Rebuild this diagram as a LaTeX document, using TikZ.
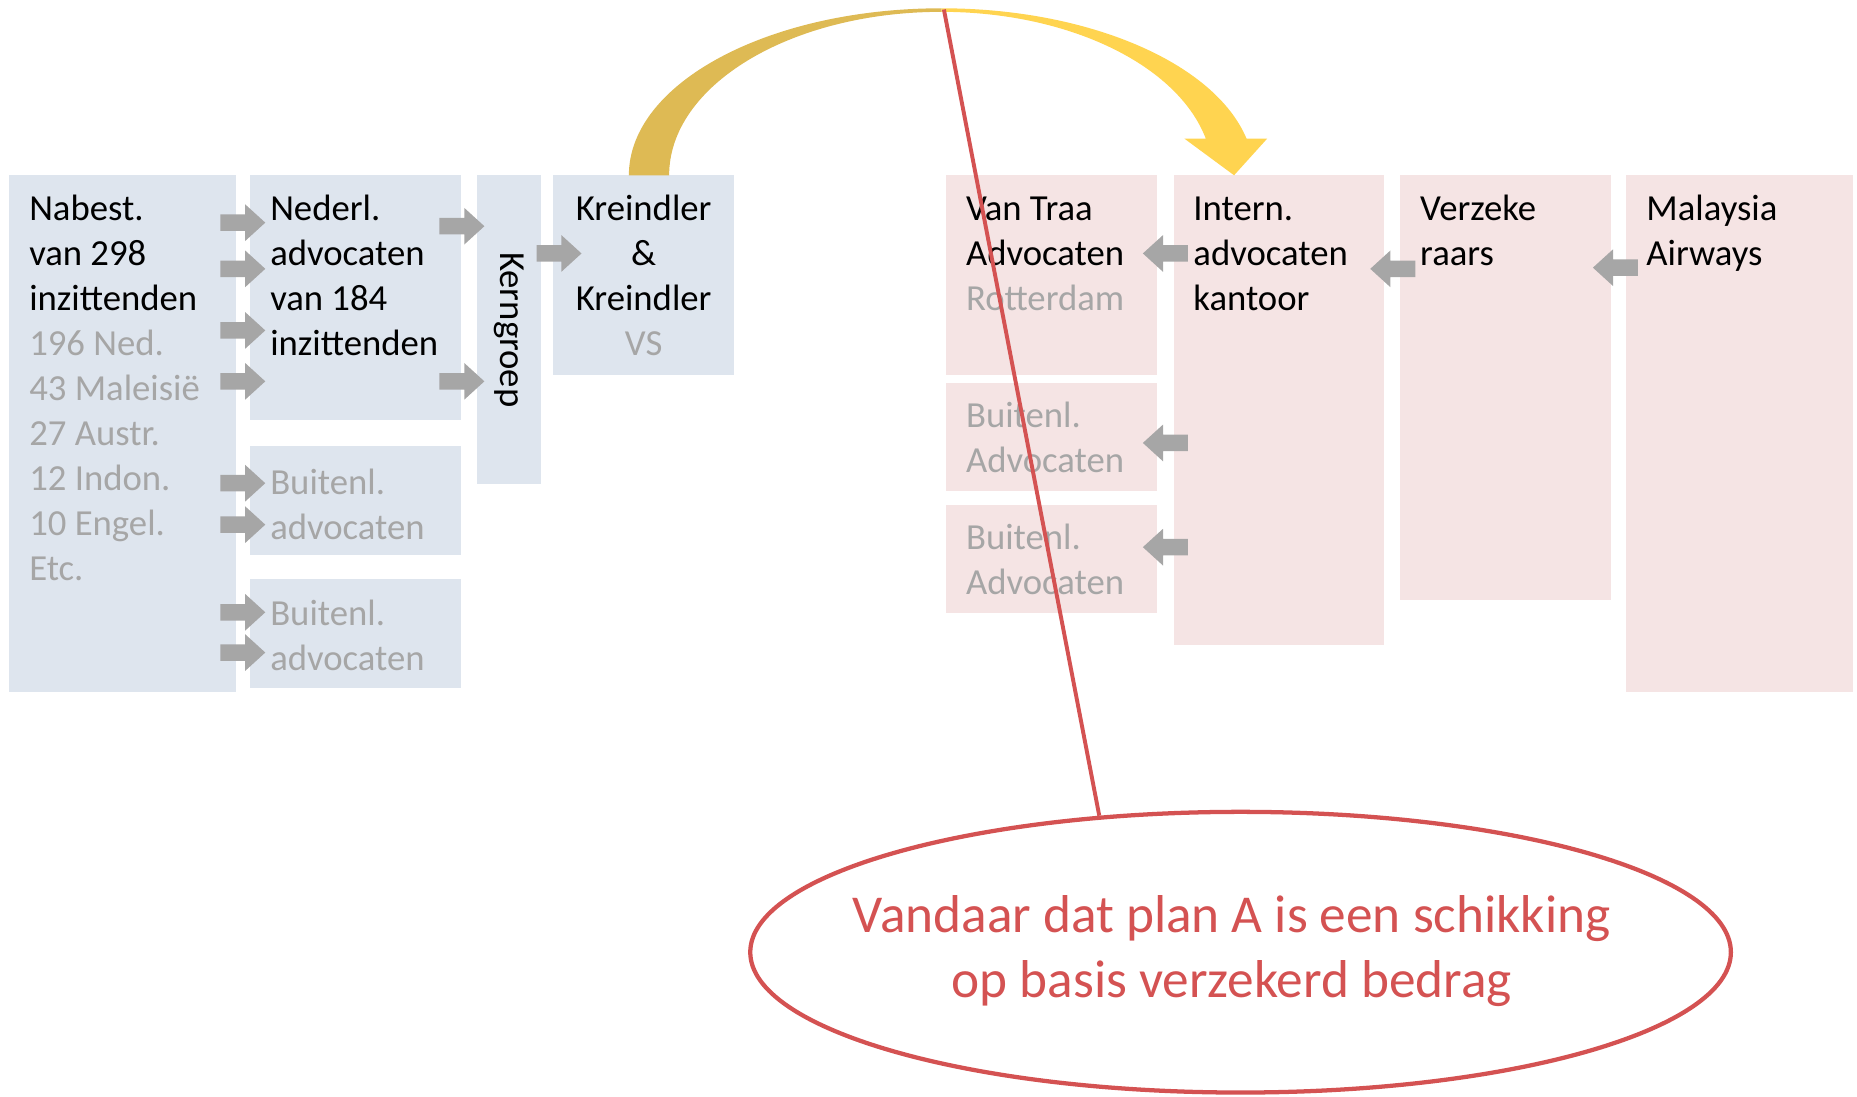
\documentclass[tikz,border=0pt]{standalone}
\usepackage{fontspec}
\setmainfont{Carlito}
\usetikzlibrary{shapes.geometric,calc}
\definecolor{boxblue}{RGB}{222,229,238}
\definecolor{boxpink}{RGB}{245,228,228}
\definecolor{arrgray}{RGB}{166,166,166}
\definecolor{txtgray}{RGB}{166,166,166}
\definecolor{goldc}{RGB}{222,186,84}
\definecolor{yelc}{RGB}{255,212,80}
\definecolor{redc}{RGB}{212,82,82}
\begin{document}
\begin{tikzpicture}[x=1pt,y=-1pt,
  bluebox/.style={fill=boxblue,draw=none,inner sep=0,outer sep=0,anchor=north west},
  pinkbox/.style={fill=boxpink,draw=none,inner sep=0,outer sep=0,anchor=north west},
  boxtext/.style={anchor=north west,inner sep=0,align=left,font=\fontsize{31}{38}\selectfont},
  ctext/.style={anchor=north,inner sep=0,align=center,font=\fontsize{31}{38}\selectfont},
  greytext/.style={text=txtgray},
  rarr/.pic={\fill[arrgray] (-19,-7) -- (2,-7) -- (2,-15.5) -- (19,0) -- (2,15.5) -- (2,7) -- (-19,7) -- cycle;},
  larr/.pic={\fill[arrgray] (19,-7) -- (-2,-7) -- (-2,-15.5) -- (-19,0) -- (-2,15.5) -- (-2,7) -- (19,7) -- cycle;},
  redl/.style={draw=redc,line width=3.3pt}
]
\useasboundingbox (0,0) rectangle (1568,926);

% left boxes
\node[bluebox,minimum width=191pt,minimum height=436pt] (nabest) at (8,148) {};
\node[bluebox,minimum width=178pt,minimum height=207pt] (nederl) at (211,148) {};
\node[bluebox,minimum width=178pt,minimum height=92pt] (buit1) at (211,377) {};
\node[bluebox,minimum width=178pt,minimum height=92pt] (buit2) at (211,489) {};
\node[bluebox,minimum width=54pt,minimum height=261pt] (kern) at (403,148) {};
\node[bluebox,minimum width=153pt,minimum height=169pt] (krein) at (467,148) {};

% right boxes
\node[pinkbox,minimum width=178pt,minimum height=169pt] (vantraa) at (799,148) {};
\node[pinkbox,minimum width=178pt,minimum height=92pt] (buitr1) at (799,323) {};
\node[pinkbox,minimum width=178pt,minimum height=92pt] (buitr2) at (799,426) {};
\node[pinkbox,minimum width=178pt,minimum height=397pt] (intern) at (991,148) {};
\node[pinkbox,minimum width=178pt,minimum height=359pt] (verz) at (1182,148) {};
\node[pinkbox,minimum width=192pt,minimum height=436pt] (malay) at (1373,148) {};

% texts
\node[boxtext] (tnabest) at ([shift={(16.5,11.4)}]nabest.north west)
  {\strut Nabest.\\van 298\\inzittenden\\\textcolor{txtgray}{196 Ned.}\\\textcolor{txtgray}{43 Maleisië}\\\textcolor{txtgray}{27 Austr.}\\\textcolor{txtgray}{12 Indon.}\\\textcolor{txtgray}{10 Engel.}\\\textcolor{txtgray}{Etc.}};
\node[boxtext] (tnederl) at ([shift={(17,11.4)}]nederl.north west)
  {\strut Nederl.\\advocaten\\van 184\\inzittenden};
\node[boxtext,greytext] (tbuit1) at ([shift={(17,13.4)}]buit1.north west)
  {\strut Buitenl.\\advocaten};
\node[boxtext,greytext] (tbuit2) at ([shift={(17,12.4)}]buit2.north west)
  {\strut Buitenl.\\advocaten};
\node[inner sep=0,rotate=-90,font=\fontsize{31}{38}\selectfont] (tkern) at (kern.center) {Kerngroep};
\node[ctext] (tkrein) at ([shift={(0,11.4)}]krein.north)
  {\strut Kreindler\\\&\\Kreindler\\\textcolor{txtgray}{VS}};

\node[boxtext] (tvantraa) at ([shift={(16.5,11.4)}]vantraa.north west)
  {\strut Van Traa\\Advocaten\\\textcolor{txtgray}{Rotterdam}};
\node[boxtext,greytext] (tbuitr1) at ([shift={(16.5,11.4)}]buitr1.north west)
  {\strut Buitenl.\\Advocaten};
\node[boxtext,greytext] (tbuitr2) at ([shift={(16.5,11.4)}]buitr2.north west)
  {\strut Buitenl.\\Advocaten};
\node[boxtext] (tintern) at ([shift={(16.5,11.4)}]intern.north west)
  {\strut Intern.\\advocaten\\kantoor};
\node[boxtext] (tverz) at ([shift={(17,11.4)}]verz.north west)
  {\strut Verzeke\\raars};
\node[boxtext] (tmalay) at ([shift={(17,11.4)}]malay.north west)
  {\strut Malaysia\\Airways};

% grey block arrows
\pic at (205,188) {rarr};
\pic at (205,227) {rarr};
\pic at (205,279) {rarr};
\pic at (205,322) {rarr};
\pic at (205,408) {rarr};
\pic at (205,443) {rarr};
\pic at (205,517) {rarr};
\pic at (205,551) {rarr};
\pic at (390,191) {rarr};
\pic at (390,322) {rarr};
\pic at (472,214) {rarr};
\pic at (984,214) {larr};
\pic at (984,374) {larr};
\pic at (984,462) {larr};
\pic at (1176,227) {larr};
\pic at (1364,226) {larr};

% yellow curved arrow
\fill[goldc] (531,148) arc[start angle=180,end angle=270,x radius=264,y radius=141]
  -- (795,10) arc[start angle=270,end angle=180,x radius=230,y radius=138] -- cycle;
\fill[yelc] (795,7) arc[start angle=270,end angle=347.3,x radius=264,y radius=141]
  -- (1070,117) -- (1042,148) -- (1000,117) -- (1018.1,116.96)
  arc[start angle=347,end angle=270,x radius=229,y radius=138] -- cycle;

% callout
\coordinate (rtop) at (797,8);
\node[ellipse,redl,line width=3.6pt,minimum width=828pt,minimum height=237pt,inner sep=0] (plan) at (1047.5,804) {};
\node[inner sep=0,align=center,text=redc,font=\fontsize{45}{55}\selectfont] (plantxt) at (1040,803)
  {Vandaar dat plan A is een schikking\\op basis verzekerd bedrag};
\draw[redl] (rtop) -- (plan.136);
\end{tikzpicture}
\end{document}
